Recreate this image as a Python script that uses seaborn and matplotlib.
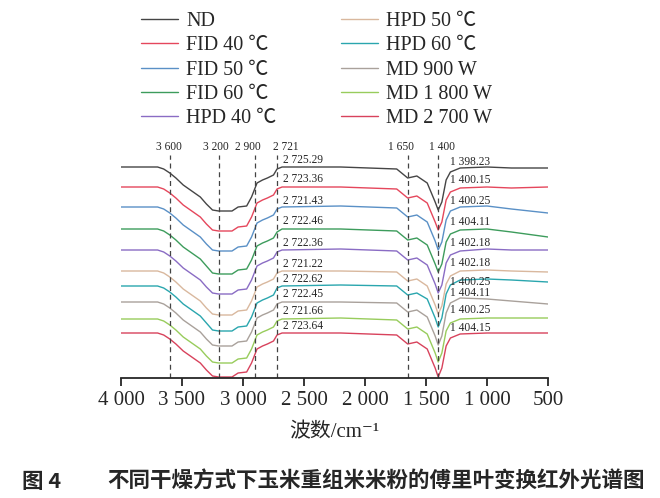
import numpy as np
import pandas as pd
import matplotlib as mpl
mpl.use("Agg")
import matplotlib.pyplot as plt
from matplotlib.lines import Line2D
import seaborn as sns

# 波数节点 (cm-1)
wavenumber = [4000, 3700, 3650, 3600, 3550, 3490, 3420, 3350, 3300, 3250,
              3200, 3130, 3090, 3040, 2970, 2930, 2885, 2840, 2800, 2750,
              2721, 2680,
              2200, 1740, 1670, 1650, 1575, 1490, 1425, 1400, 1370, 1335,
              1300, 1220, 1000, 800, 500]

samples = ["ND", "FID 40 ℃", "FID 50 ℃", "FID 60 ℃", "HPD 40 ℃",
           "HPD 50 ℃", "HPD 60 ℃", "MD 900 W", "MD 1 800 W", "MD 2 700 W"]

# 堆叠后的透过率 (任意单位, 从图上读取)
nd = [211, 211, 209, 205, 200, 193, 187, 181, 174, 168, 167, 167, 167, 171, 172,
      181, 195, 198, 200, 203, 209, 211,
      211, 209, 202, 200, 202, 195, 176, 168, 176, 198, 206, 210, 211, 210, 210]
fid40 = [191, 191, 189, 185, 180, 173, 167, 161, 154, 148, 147, 147, 147, 151, 152,
         161, 175, 178, 180, 183, 189, 191,
         191, 189, 182, 180, 182, 175, 156, 148, 156, 178, 186, 190, 191, 190, 191]
fid50 = [171, 171, 169, 165, 160, 153, 147, 141, 134, 128, 127, 127, 127, 131, 132,
         141, 155, 158, 160, 163, 169, 171,
         172, 170, 163, 161, 163, 156, 137, 128, 136, 158, 167, 171, 172, 169, 165]
fid60 = [149, 149, 147, 143, 138, 131, 125, 119, 112, 105, 104, 104, 104, 108, 109,
         118, 132, 135, 137, 140, 146, 149,
         149, 147, 140, 138, 140, 133, 114, 106, 114, 136, 144, 148, 149, 146, 141]
hpd40 = [128, 128, 126, 122, 117, 110, 104, 98, 91, 85, 84, 84, 84, 88, 89,
         98, 112, 115, 117, 120, 126, 128,
         129, 127, 120, 118, 120, 113, 94, 85, 93, 115, 123, 127, 129, 128, 128]
hpd50 = [107, 107, 105, 101, 96, 89, 83, 77, 70, 64, 63, 63, 63, 67, 68,
         77, 91, 94, 96, 99, 105, 107,
         107, 106, 99, 97, 99, 92, 73, 64, 72, 94, 102, 107, 108, 107, 106]
hpd60 = [92, 92, 90, 86, 81, 74, 68, 62, 55, 48, 47, 47, 47, 51, 52,
         61, 75, 78, 80, 83, 90, 92,
         93, 92, 85, 83, 85, 79, 60, 51, 60, 84, 93, 98, 99, 98, 96]
md900 = [76, 76, 74, 70, 65, 58, 52, 46, 39, 33, 32, 32, 32, 36, 37,
         46, 60, 63, 65, 68, 74, 76,
         76, 75, 68, 66, 68, 61, 42, 33, 42, 65, 75, 80, 79, 77, 74]
md1800 = [59, 59, 57, 53, 48, 41, 35, 29, 22, 16, 15, 15, 15, 19, 20,
          29, 43, 46, 48, 51, 57, 59,
          60, 58, 51, 49, 51, 44, 25, 16, 25, 47, 55, 59, 60, 60, 60]
md2700 = [45, 45, 43, 39, 34, 27, 21, 15, 8, 2, 1, 1, 1, 5, 6,
          15, 29, 32, 34, 37, 43, 45,
          45, 43, 36, 34, 36, 29, 10, 1, 10, 32, 40, 44, 45, 45, 45]
series = [nd, fid40, fid50, fid60, hpd40, hpd50, hpd60, md900, md1800, md2700]

colors = ["#454545", "#e5475c", "#5a90c6", "#3d9c5c", "#8a6cc4",
          "#d9b89e", "#2aa6ae", "#a9a19b", "#98cc5c", "#d8425c"]

# 特征峰
peak_lines = [3600, 3200, 2900, 2721, 1650, 1400]
peak_texts = ["3 600", "3 200", "2 900", "2 721", "1 650", "1 400"]
peak_text_x = [3607, 3225, 2960, 2650, 1705, 1370]

left_labels = ["2 725.29", "2 723.36", "2 721.43", "2 722.46", "2 722.36",
               "2 721.22", "2 722.62", "2 722.45", "2 721.66", "2 723.64"]
left_label_y = [218, 199, 177, 157, 135, 114, 99, 84, 67, 52]
right_labels = ["1 398.23", "1 400.15", "1 400.25", "1 404.11", "1 402.18",
                "1 402.18", "1 400.25", "1 404.11", "1 400.25", "1 404.15"]
right_label_y = [216, 198, 177, 156, 135, 115, 96, 85, 68, 50]

xticks = [4000, 3500, 3000, 2500, 2000, 1500, 1000, 500]
xticklabels = ["4 000", "3 500", "3 000", "2 500", "2 000",
               "1 500", "1 000", "500"]

sns.set_style("ticks")
serif = ["Liberation Serif", "Noto Sans CJK SC", "DejaVu Sans"]
plt.rcParams["font.family"] = serif

df = pd.DataFrame({
    "wn": np.tile(wavenumber, len(samples)),
    "T": np.concatenate(series),
    "sample": np.repeat(samples, len(wavenumber)),
})

fig = plt.figure(figsize=(6.6, 4.98), dpi=100)
ax = fig.add_axes([121 / 660, 1 - 378 / 498, 427 / 660, 248 / 498])

sns.lineplot(data=df, x="wn", y="T", hue="sample", hue_order=samples,
             palette=colors, estimator=None, sort=True, lw=1.0,
             legend=False, ax=ax)

ax.vlines(peak_lines, 0, 223, colors="#444444", lw=0.9,
          linestyles=(0, (4, 3)))
for x, t in zip(peak_text_x, peak_texts):
    ax.text(x, 231, t, ha="center", va="center", fontsize=8.3)
for y, t in zip(left_label_y, left_labels):
    ax.text(2672, y, t, ha="left", va="center", fontsize=8.3)
for y, t in zip(right_label_y, right_labels):
    ax.text(1303, y, t, ha="left", va="center", fontsize=8.3)

ax.set_xlim(4000, 500)
ax.set_ylim(0, 248)
ax.set_xticks(xticks)
ax.set_xticklabels(xticklabels, fontsize=15)
ax.set_yticks([])
ax.set_ylabel("")
ax.set_xlabel("波数/cm⁻¹", fontsize=15, labelpad=10)
sns.despine(ax=ax, left=True)
ax.spines["bottom"].set_linewidth(1.3)
ax.tick_params(axis="x", direction="out", length=6, width=1.3, pad=3)

handles = [Line2D([], [], color=c, lw=1.0) for c in colors]
fig.legend(handles, samples, ncol=2, loc="upper left",
           bbox_to_anchor=(141 / 660, 1 - 12 / 498), frameon=False,
           fontsize=14.5, handlelength=1.85, handletextpad=0.4,
           columnspacing=3.2, labelspacing=0.26, borderpad=0,
           borderaxespad=0)

fig.text(22 / 660, 1 - 481 / 498, "图 4", fontsize=15.5, fontweight="bold",
         family=["Noto Sans CJK SC"], va="center", ha="left")
fig.text(107 / 660, 1 - 481 / 498,
         "不同干燥方式下玉米重组米米粉的傅里叶变换红外光谱图",
         fontsize=15.5, fontweight="bold", family=["Noto Sans CJK SC"],
         va="center", ha="left")

fig.savefig("out.png", dpi=100)
